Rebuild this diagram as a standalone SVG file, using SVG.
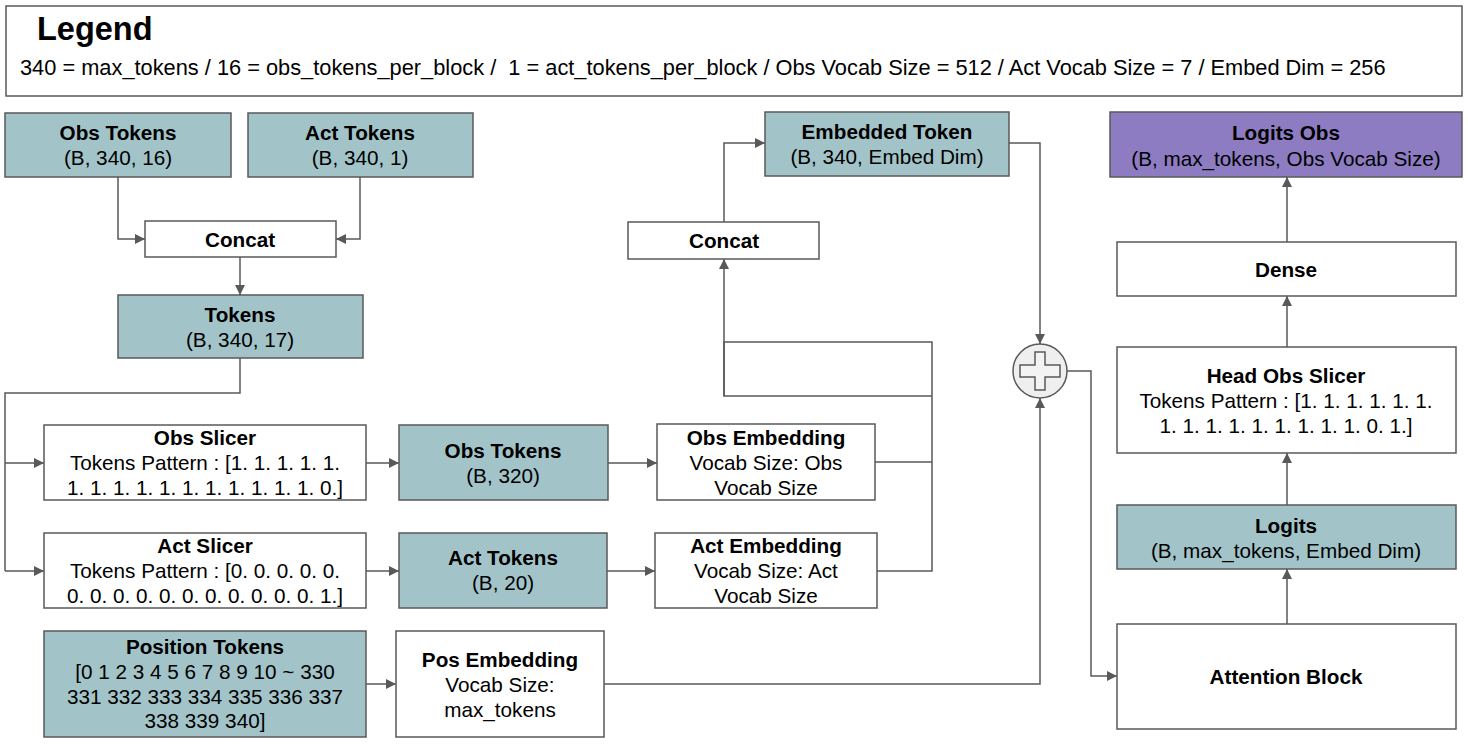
<svg xmlns="http://www.w3.org/2000/svg" width="1468" height="745" viewBox="0 0 1468 745">
<defs>
<marker id="arr" viewBox="0 0 10 10" refX="10" refY="5" markerWidth="10" markerHeight="10" markerUnits="userSpaceOnUse" orient="auto">
<path d="M0,0 L10,5 L0,10 z" fill="#595959"/>
</marker>
<style>
text{font-family:"Liberation Sans",Arial,sans-serif;font-size:20.7px;fill:#000;text-anchor:middle}
.b{font-weight:bold}
.teal{fill:#a2c4c9;stroke:#595959;stroke-width:1.5}
.white{fill:#fff;stroke:#595959;stroke-width:1.5}
.purple{fill:#8e7cc3;stroke:#595959;stroke-width:1.5}
.c{fill:none;stroke:#595959;stroke-width:1.5}
.a{marker-end:url(#arr)}
</style>
</defs>
<rect width="1468" height="745" fill="#fff"/>
<g id="legend">
<rect x="6" y="6" width="1456" height="90" fill="#fff" stroke="#595959" stroke-width="1.5"/>
<text x="37" y="40" class="b" style="text-anchor:start;font-size:32.5px">Legend</text>
<text x="20" y="75" style="text-anchor:start;font-size:21.8px" xml:space="preserve">340 = max_tokens / 16 = obs_tokens_per_block /  1 = act_tokens_per_block / Obs Vocab Size = 512 / Act Vocab Size = 7 / Embed Dim = 256</text>
</g>
<g id="connectors">
<path class="c a" d="M118,177 V239 H145"/>
<path class="c a" d="M360,177 V239 H336"/>
<path class="c a" d="M240,257 V295"/>
<path class="c" d="M240,358 V393 H5 V571"/>
<path class="c a" d="M5,463 H44"/>
<path class="c a" d="M5,571 H44"/>
<path class="c a" d="M366,463 H399"/>
<path class="c a" d="M366,571 H399"/>
<path class="c a" d="M608,463 H657"/>
<path class="c a" d="M607,571 H655"/>
<path class="c" d="M875,462 H932"/>
<path class="c" d="M877,571 H932 V342 H724 V396 H932"/>
<path class="c a" d="M724,396 V259"/>
<path class="c a" d="M724,222 V143 H765"/>
<path class="c a" d="M1009,143 H1040 V344"/>
<path class="c a" d="M366,684 H396"/>
<path class="c a" d="M604,684 H1040 V398"/>
<path class="c a" d="M1067,371 H1091 V676 H1117"/>
<path class="c a" d="M1287,624 V569"/>
<path class="c a" d="M1287,505 V453"/>
<path class="c a" d="M1287,347 V296"/>
<path class="c a" d="M1287,242 V177"/>
</g>
<g id="obs_tokens_in"><rect class="teal" x="5" y="113" width="226" height="64"/><text class="b" x="118" y="140">Obs Tokens</text><text x="118" y="165">(B, 340, 16)</text></g>
<g id="act_tokens_in"><rect class="teal" x="248" y="113" width="225" height="64"/><text class="b" x="360" y="140">Act Tokens</text><text x="360" y="165">(B, 340, 1)</text></g>
<g id="concat1"><rect class="white" x="145" y="221" width="191" height="36"/><text class="b" x="240" y="247">Concat</text></g>
<g id="tokens"><rect class="teal" x="118" y="295" width="245" height="63"/><text class="b" x="240" y="322">Tokens</text><text x="240" y="347">(B, 340, 17)</text></g>
<g id="obs_slicer"><rect class="white" x="44" y="425" width="322" height="75"/><text class="b" x="205" y="445">Obs Slicer</text><text x="205" y="470">Tokens Pattern : [1. 1. 1. 1. 1.</text><text x="205" y="495">1. 1. 1. 1. 1. 1. 1. 1. 1. 1. 1. 0.]</text></g>
<g id="obs_tokens_mid"><rect class="teal" x="399" y="425" width="209" height="75"/><text class="b" x="503" y="458">Obs Tokens</text><text x="503" y="483">(B, 320)</text></g>
<g id="obs_embedding"><rect class="white" x="657" y="424" width="218" height="76"/><text class="b" x="766" y="445">Obs Embedding</text><text x="766" y="470">Vocab Size: Obs</text><text x="766" y="495">Vocab Size</text></g>
<g id="act_slicer"><rect class="white" x="44" y="533" width="322" height="75"/><text class="b" x="205" y="553">Act Slicer</text><text x="205" y="578">Tokens Pattern : [0. 0. 0. 0. 0.</text><text x="205" y="603">0. 0. 0. 0. 0. 0. 0. 0. 0. 0. 0. 1.]</text></g>
<g id="act_tokens_mid"><rect class="teal" x="399" y="533" width="208" height="75"/><text class="b" x="503" y="565">Act Tokens</text><text x="503" y="590">(B, 20)</text></g>
<g id="act_embedding"><rect class="white" x="655" y="533" width="222" height="75"/><text class="b" x="766" y="553">Act Embedding</text><text x="766" y="578">Vocab Size: Act</text><text x="766" y="603">Vocab Size</text></g>
<g id="position_tokens"><rect class="teal" x="44" y="631" width="322" height="106"/><text class="b" x="205" y="654">Position Tokens</text><text x="205" y="679">[0 1 2 3 4 5 6 7 8 9 10 ~ 330</text><text x="205" y="704">331 332 333 334 335 336 337</text><text x="205" y="728">338 339 340]</text></g>
<g id="pos_embedding"><rect class="white" x="396" y="631" width="208" height="106"/><text class="b" x="500" y="667">Pos Embedding</text><text x="500" y="692">Vocab Size:</text><text x="500" y="717">max_tokens</text></g>
<g id="concat2"><rect class="white" x="628" y="222" width="191" height="37"/><text class="b" x="724" y="248">Concat</text></g>
<g id="embedded_token"><rect class="teal" x="765" y="112" width="244" height="64"/><text class="b" x="887" y="139">Embedded Token</text><text x="887" y="164">(B, 340, Embed Dim)</text></g>
<g id="add">
<circle cx="1040" cy="371" r="27" fill="#efefef" stroke="#595959" stroke-width="1.5"/>
<path d="M1035,352 H1045 V365 H1060 V377 H1045 V390 H1035 V377 H1020 V365 H1035 Z" fill="#f3f3f3" stroke="#595959" stroke-width="1.5"/>
</g>
<g id="logits_obs"><rect class="purple" x="1110" y="112" width="352" height="65"/><text class="b" x="1286" y="140">Logits Obs</text><text x="1286" y="166">(B, max_tokens, Obs Vocab Size)</text></g>
<g id="dense"><rect class="white" x="1117" y="242" width="339" height="54"/><text class="b" x="1286" y="277">Dense</text></g>
<g id="head_obs_slicer"><rect class="white" x="1117" y="347" width="339" height="106"/><text class="b" x="1286" y="383">Head Obs Slicer</text><text x="1286" y="408">Tokens Pattern : [1. 1. 1. 1. 1. 1.</text><text x="1286" y="433">1. 1. 1. 1. 1. 1. 1. 1. 1. 0. 1.]</text></g>
<g id="logits"><rect class="teal" x="1117" y="505" width="339" height="64"/><text class="b" x="1286" y="533">Logits</text><text x="1286" y="558">(B, max_tokens, Embed Dim)</text></g>
<g id="attention_block"><rect class="white" x="1117" y="624" width="339" height="105"/><text class="b" x="1286" y="684">Attention Block</text></g>
</svg>
